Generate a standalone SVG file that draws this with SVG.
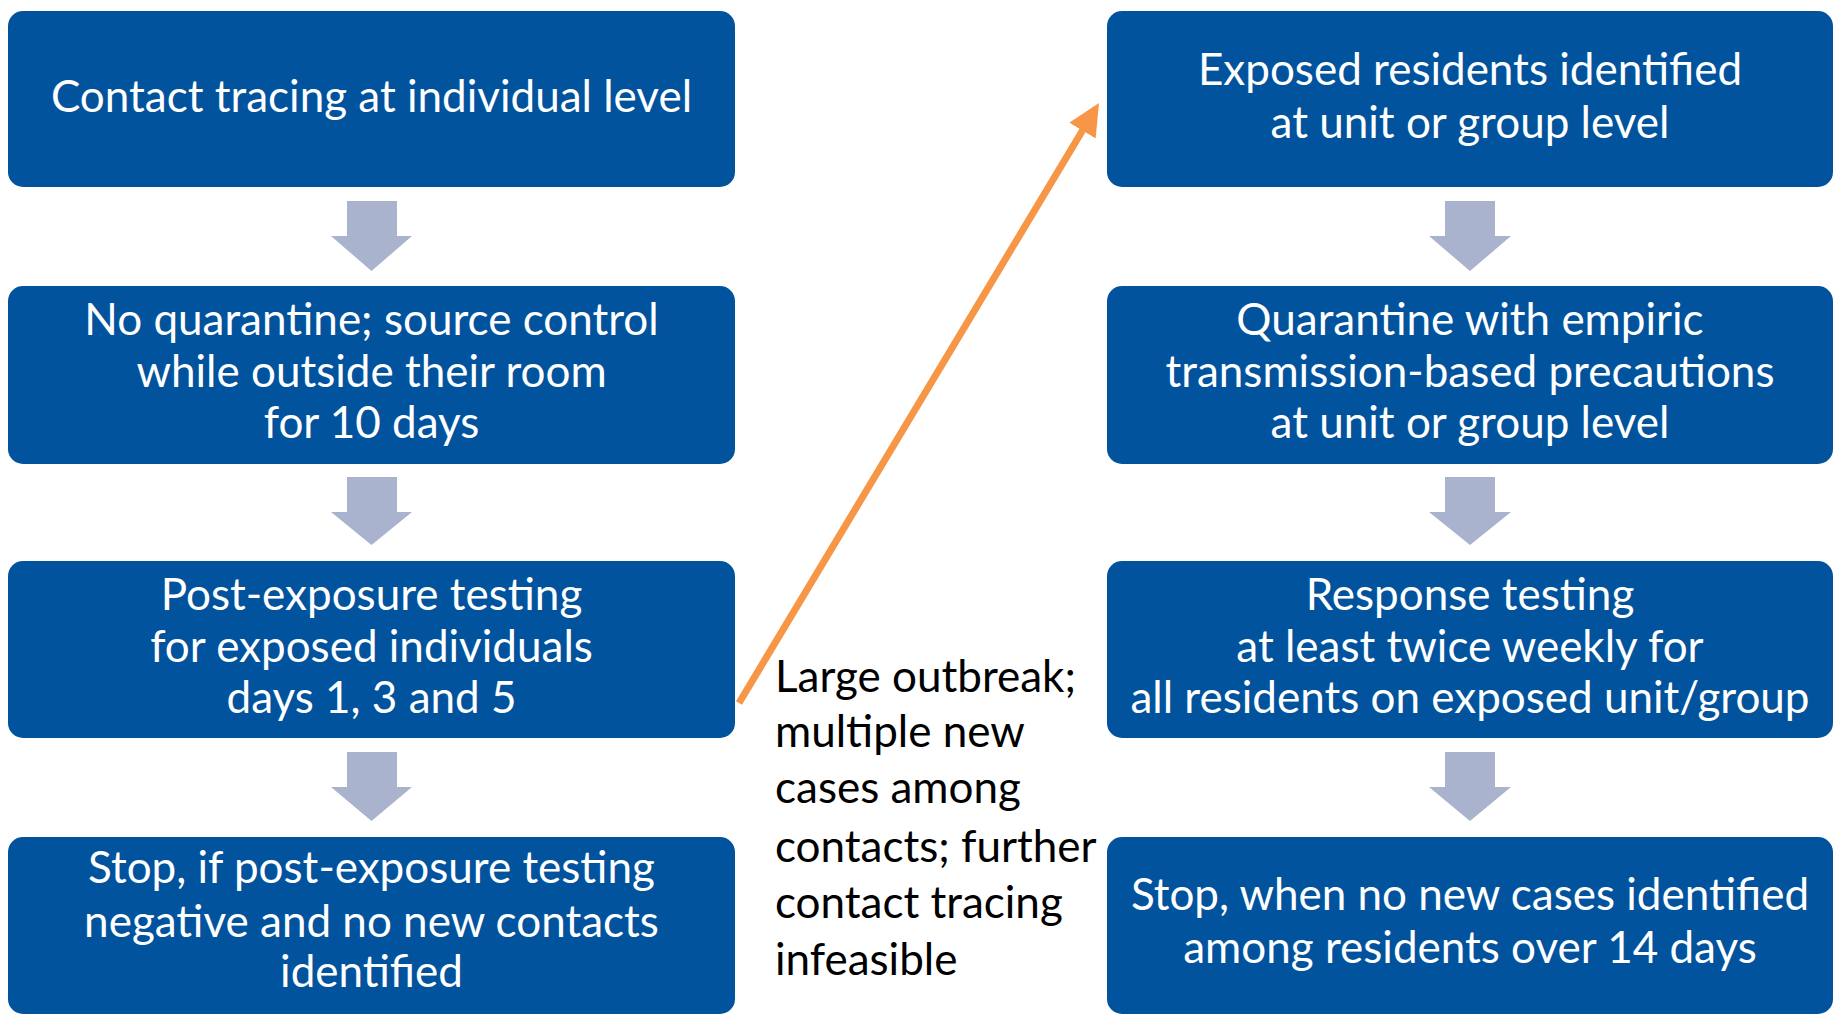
<svg xmlns="http://www.w3.org/2000/svg" width="1833" height="1019" viewBox="0 0 1833 1019">
<defs>
<style>
.box{fill:#02539D;}
.bt{font-family:Lato,"Open Sans","Liberation Sans",sans-serif;font-size:44px;fill:#FFFFFF;text-anchor:middle;}
.lt{font-family:Lato,"Open Sans","Liberation Sans",sans-serif;font-size:44px;fill:#000000;}
.down{fill:#A9B3CE;}
</style>
<marker id="oh" markerWidth="6" markerHeight="6" refX="3.6" refY="2.2" orient="auto" markerUnits="strokeWidth">
<path d="M0,0 L4.6,2.2 L0,4.4 Z" fill="#F79646"/>
</marker>
</defs>
<rect width="1833" height="1019" fill="#FFFFFF"/>
<g id="n1"><rect class="box" x="8" y="11" width="727" height="176" rx="15"/>
<text class="bt" x="371.5" y="112">Contact tracing at individual level</text></g>
<g id="n2"><rect class="box" x="8" y="286" width="727" height="178" rx="15"/>
<text class="bt" x="371.5" y="335">No quarantine; source control</text>
<text class="bt" x="371.5" y="387">while outside their room</text>
<text class="bt" x="371.5" y="438">for 10 days</text></g>
<g id="n3"><rect class="box" x="8" y="561" width="727" height="177" rx="15"/>
<text class="bt" x="371.5" y="610">Post-exposure testing</text>
<text class="bt" x="371.5" y="662">for exposed individuals</text>
<text class="bt" x="371.5" y="713">days 1, 3 and 5</text></g>
<g id="n4"><rect class="box" x="8" y="837" width="727" height="177" rx="15"/>
<text class="bt" x="371.5" y="883">Stop, if post-exposure testing</text>
<text class="bt" x="371.5" y="937">negative and no new contacts</text>
<text class="bt" x="371.5" y="987">identified</text></g>
<g id="n5"><rect class="box" x="1107" y="11" width="726" height="176" rx="15"/>
<text class="bt" x="1470" y="85">Exposed residents identified</text>
<text class="bt" x="1470" y="138">at unit or group level</text></g>
<g id="n6"><rect class="box" x="1107" y="286" width="726" height="178" rx="15"/>
<text class="bt" x="1470" y="335">Quarantine with empiric</text>
<text class="bt" x="1470" y="387">transmission-based precautions</text>
<text class="bt" x="1470" y="438">at unit or group level</text></g>
<g id="n7"><rect class="box" x="1107" y="561" width="726" height="177" rx="15"/>
<text class="bt" x="1470" y="610">Response testing</text>
<text class="bt" x="1470" y="662">at least twice weekly for</text>
<text class="bt" x="1470" y="713">all residents on exposed unit/group</text></g>
<g id="n8"><rect class="box" x="1107" y="837" width="726" height="177" rx="15"/>
<text class="bt" x="1470" y="910">Stop, when no new cases identified</text>
<text class="bt" x="1470" y="963">among residents over 14 days</text></g>
<g id="label">
<text class="lt" x="775" y="692">Large outbreak;</text>
<text class="lt" x="775" y="747">multiple new</text>
<text class="lt" x="775" y="803">cases among</text>
<text class="lt" x="775" y="862">contacts; further</text>
<text class="lt" x="775" y="918">contact tracing</text>
<text class="lt" x="775" y="975">infeasible</text>
</g>
<g id="connectors">
<path class="down" d="M347,201 H397 V236 H412 L371.5,271 L331,236 H347 Z"/>
<path class="down" d="M347,477 H397 V512 H412 L371.5,545 L331,512 H347 Z"/>
<path class="down" d="M347,752 H397 V787 H412 L371.5,821 L331,787 H347 Z"/>
<path class="down" d="M1445,201 H1495 V236 H1511 L1470,271 L1429,236 H1445 Z"/>
<path class="down" d="M1445,477 H1495 V512 H1511 L1470,545 L1429,512 H1445 Z"/>
<path class="down" d="M1445,752 H1495 V787 H1511 L1470,821 L1429,787 H1445 Z"/>
<line x1="739" y1="703" x2="1095.4" y2="109" stroke="#F79646" stroke-width="7" marker-end="url(#oh)"/>
</g>
</svg>
